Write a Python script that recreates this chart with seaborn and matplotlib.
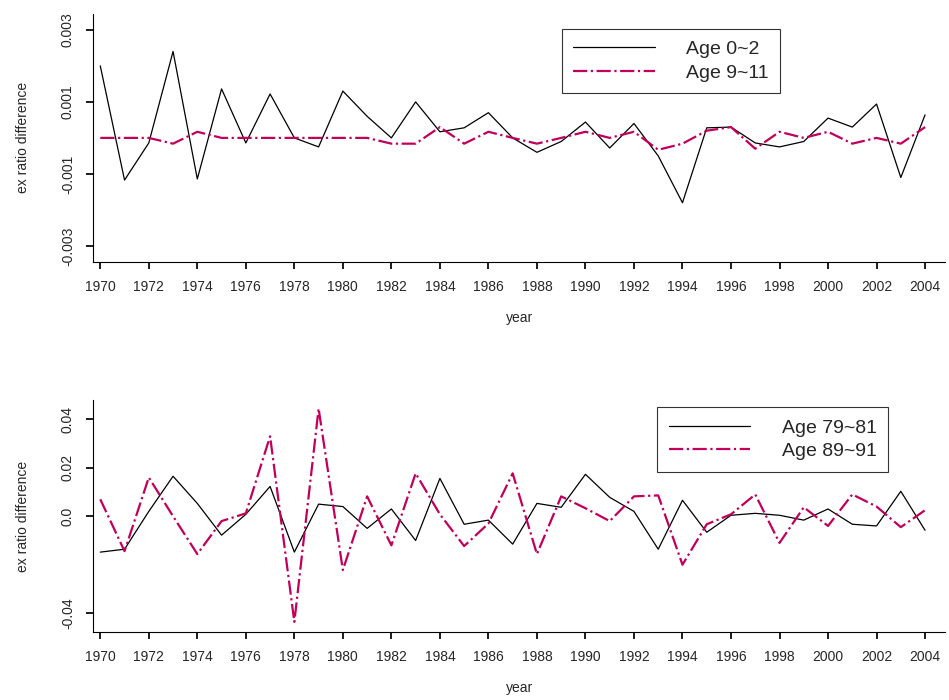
import matplotlib
matplotlib.use("Agg")
import matplotlib.pyplot as plt
import numpy as np
import pandas as pd
import seaborn as sns

years = list(range(1970, 2005))

age_0_2 = [0.002, -0.00117, -0.00014, 0.0024, -0.00114, 0.00136, -0.00014, 0.00122,
           0.0, -0.00025, 0.0013, 0.0006, 0.0, 0.001, 0.00017, 0.00028, 0.0007, 0.0,
           -0.0004, -0.0001, 0.00044, -0.00028, 0.0004, -0.0005, -0.0018, 0.00028,
           0.0003, -0.00014, -0.00025, -0.0001, 0.00055, 0.0003, 0.00094, -0.0011, 0.00064]
age_9_11 = [0.0, 0.0, 0.0, -0.00016, 0.00017, 0.0, 0.0, 0.0, 0.0, 0.0, 0.0, 0.0,
            -0.00016, -0.00016, 0.0003, -0.00016, 0.00017, 0.0, -0.00016, 0.0, 0.00017,
            0.0, 0.00017, -0.00033, -0.00016, 0.0002, 0.0003, -0.0003, 0.00017, 0.0,
            0.00017, -0.00016, 0.0, -0.00016, 0.0003]
age_79_81 = [-0.0148, -0.0136, 0.002, 0.0165, 0.0053, -0.0078, 0.0008, 0.0123, -0.0148,
             0.005, 0.004, -0.005, 0.003, -0.010, 0.0156, -0.0033, -0.0016, -0.0115,
             0.0053, 0.0037, 0.0173, 0.0078, 0.002, -0.0136, 0.0066, -0.0066, 0.0004,
             0.0012, 0.0004, -0.0016, 0.003, -0.0033, -0.004, 0.0103, -0.0058]
age_89_91 = [0.007, -0.0144, 0.016, 0.0, -0.0156, -0.002, 0.0012, 0.033, -0.0436, 0.0444,
             -0.0222, 0.0082, -0.012, 0.0177, 0.0008, -0.0123, -0.003, 0.0177, -0.0156,
             0.0082, 0.0033, -0.002, 0.0082, 0.0086, -0.020, -0.0033, 0.0008, 0.009,
             -0.011, 0.0037, -0.004, 0.009, 0.004, -0.0045, 0.0025]

MAGENTA = "#C0005A"

sns.set_theme(style="white")
plt.rcParams["font.family"] = ["Liberation Sans", "DejaVu Sans"]

fig = plt.figure(figsize=(9.49, 7.0), dpi=100)
ax1 = fig.add_axes([0.098, 0.626, 0.898, 0.354])
ax2 = fig.add_axes([0.098, 0.097, 0.898, 0.331])


def draw(ax, s1, s2, lab1, lab2, ylim, yticks, yticklabels, legend_bbox):
    df = pd.DataFrame({"year": years, lab1: s1, lab2: s2})
    sns.lineplot(data=df, x="year", y=lab1, ax=ax, color="black", lw=0.9, label=lab1)
    sns.lineplot(data=df, x="year", y=lab2, ax=ax, color=MAGENTA, lw=1.6,
                 linestyle="-.", label=lab2)
    ax.set_xlim(1969.7, 2004.83)
    ax.set_ylim(*ylim)
    ax.set_xticks(range(1970, 2005, 2))
    ax.set_yticks(yticks)
    ax.set_yticklabels(yticklabels, rotation=90, va="center")
    ax.tick_params(axis="both", labelsize=10, length=5, pad=8, direction="out",
                   bottom=True, left=True, color="black")
    ax.set_xlabel("year", fontsize=10, labelpad=12)
    ax.set_ylabel("ex ratio difference", fontsize=10, labelpad=22)
    for side in ("top", "right"):
        ax.spines[side].set_visible(False)
    for side in ("left", "bottom"):
        ax.spines[side].set_color("black")
        ax.spines[side].set_linewidth(0.8)
    leg = ax.legend(loc="upper left", bbox_to_anchor=legend_bbox, fontsize=14,
                    frameon=True, fancybox=False, edgecolor="black",
                    handlelength=4.2, handletextpad=1.6, borderpad=0.6,
                    labelspacing=0.3, borderaxespad=0)
    leg.get_frame().set_linewidth(0.8)


draw(ax1, age_0_2, age_9_11, "Age 0~2", "Age 9~11", (-0.00344, 0.00344),
     [-0.003, -0.001, 0.001, 0.003], ["-0.003", "-0.001", "0.001", "0.003"],
     (0.55, 0.94))
draw(ax2, age_79_81, age_89_91, "Age 79~81", "Age 89~91", (-0.0478, 0.0478),
     [-0.04, 0.0, 0.02, 0.04], ["-0.04", "0.0", "0.02", "0.04"],
     (0.662, 0.97))

fig.savefig("out.png", dpi=100)
